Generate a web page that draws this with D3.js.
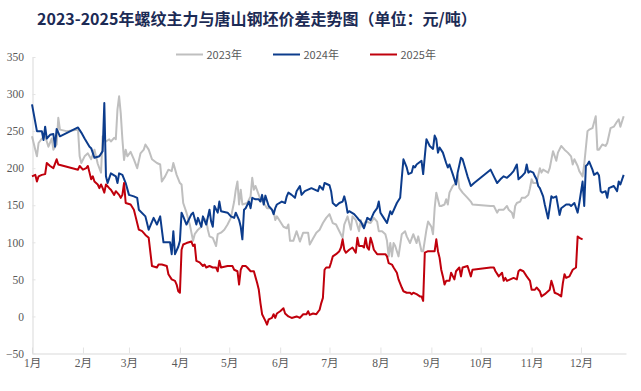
<!DOCTYPE html>
<html><head><meta charset="utf-8">
<script src="https://cdn.jsdelivr.net/npm/d3@7/dist/d3.min.js"></script>
<style>body{margin:0;background:#fff}svg{display:block}</style>
</head><body>
<svg id="chart" width="641" height="391"></svg>
<script>
const titleText = "2023-2025年螺纹主力与唐山钢坯价差走势图（单位：元/吨）";
const seriesNames = ["2023年", "2024年", "2025年"];
const monthLabels = ["1月","2月","3月","4月","5月","6月","7月","8月","9月","10月","11月","12月"];
const monthStarts = ["01-01","02-01","03-01","04-01","05-01","06-01","07-01","08-01","09-01","10-01","11-01","12-01"];
const yTickValues = [-50, 0, 50, 100, 150, 200, 250, 300, 350];

const dates2023 = ["01-01","01-03","01-04","01-05","01-07","01-09","01-11","01-13","01-14","01-16","01-17","01-18","01-22","01-29","01-30","01-31",
"02-02","02-04","02-06","02-08","02-10","02-12","02-13","02-15","02-17","02-18","02-20","02-21","02-22","02-23","02-24","02-25","02-26","02-27","02-28",
"03-02","03-04","03-06","03-08","03-10","03-11","03-13","03-15","03-18","03-20","03-21","03-23","03-25","03-27","03-28","03-30",
"04-01","04-02","04-03","04-05","04-07","04-09","04-10","04-12","04-14","04-15","04-17","04-18","04-19","04-21","04-23","04-24","04-26","04-28","04-30",
"05-02","05-04","05-05","05-06","05-07","05-08","05-09","05-12","05-14","05-15","05-16","05-17","05-20","05-22","05-24","05-26","05-28","05-29","05-30",
"06-01","06-03","06-05","06-06","06-07","06-09","06-11","06-13","06-15","06-18","06-19","06-21","06-23","06-25","06-27","06-29",
"07-01","07-03","07-05","07-07","07-09","07-10","07-12","07-14","07-15","07-17","07-19","07-20","07-21","07-23","07-26","07-28","07-30","07-31",
"08-02","08-04","08-05","08-06","08-07","08-08","08-09","08-10","08-12","08-14","08-16","08-17","08-19","08-21","08-23","08-24","08-26","08-27","08-29","08-30",
"09-01","09-02","09-03","09-04","09-06","09-07","09-09","09-10","09-11","09-12","09-14","09-16","09-17","09-18","09-20","09-23","09-25","09-26",
"10-07","10-09","10-11","10-12","10-15","10-17","10-18","10-20","10-21","10-22","10-23","10-25","10-26","10-28","10-30","10-31",
"11-01","11-02","11-04","11-06","11-07","11-08","11-11","11-12","11-14","11-16","11-17","11-19","11-21","11-23","11-25","11-26","11-27","11-29","11-30",
"12-02","12-03","12-05","12-06","12-08","12-10","12-11","12-12","12-14","12-16","12-17","12-19","12-21","12-23","12-24","12-25","12-27"];
const values2023 = [243,225,216,234,240,243,229,240,225,232,268,252,250,252,216,207,
216,220,212,225,206,194,243,236,239,236,241,239,279,297,274,239,211,225,216,
222,212,200,220,225,232,225,212,207,205,182,189,198,196,207,191,
180,178,153,140,124,102,111,117,121,133,130,117,108,106,95,111,113,117,124,
133,155,171,182,151,171,151,153,162,187,171,176,158,153,146,146,142,130,135,
128,121,119,124,102,102,115,101,113,113,97,105,113,117,126,133,
138,126,124,115,106,124,135,117,135,130,115,130,121,128,126,133,128,115,
115,111,102,81,99,81,99,95,81,111,115,108,99,111,99,108,88,88,117,128,
121,111,146,167,149,149,151,158,151,167,176,180,191,173,167,160,155,151,
149,149,140,144,144,149,144,140,133,149,153,155,160,160,164,173,
185,180,180,200,194,198,194,200,223,210,221,230,225,221,216,205,212,203,196,
189,205,250,252,254,270,225,225,232,230,234,254,256,263,266,256,270];

const dates2024 = ["01-01","01-04","01-07","01-08","01-09","01-10","01-12","01-14","01-15","01-16","01-18","01-29","01-31",
"02-02","02-05","02-06","02-08","02-11","02-13","02-14","02-15","02-16","02-18","02-21","02-22","02-23","02-25","02-27",
"03-01","03-04","03-06","03-07","03-11","03-13","03-16","03-18","03-20","03-21","03-22","03-26","03-27","03-28","03-29","03-31",
"04-01","04-02","04-03","04-05","04-08","04-09","04-11","04-12","04-14","04-15","04-17","04-19","04-20","04-21","04-22","04-24","04-25","04-26","04-30",
"05-02","05-04","05-05","05-07","05-08","05-09","05-10","05-11","05-13","05-14","05-15","05-17","05-19","05-20","05-21","05-22","05-23","05-25","05-27","05-28","05-29","05-30",
"06-02","06-04","06-05","06-06","06-08","06-10","06-11","06-13","06-14","06-16","06-20","06-22","06-24","06-25","06-27","06-28",
"07-01","07-02","07-03","07-05","07-07","07-09","07-10","07-11","07-12","07-13","07-16","07-18","07-19","07-20","07-21","07-22","07-24","07-26","07-28","07-30","07-31",
"08-01","08-03","08-05","08-07","08-08","08-11","08-13","08-14","08-15","08-17","08-18","08-20","08-21","08-22","08-23","08-26","08-27","08-28","08-29","08-31",
"09-02","09-03","09-04","09-05","09-06","09-08","09-10","09-11","09-12","09-14","09-16","09-17","09-19","09-20","09-23","09-25","09-27",
"10-07","10-09","10-11","10-13","10-15","10-17","10-19","10-21","10-23","10-24","10-26","10-28","10-29","10-30","10-31",
"11-02","11-03","11-04","11-05","11-06","11-08","11-09","11-11","11-13","11-14","11-16","11-18","11-19","11-22","11-24","11-25","11-27","11-29","11-30",
"12-02","12-03","12-04","12-05","12-06","12-08","12-09","12-11","12-12","12-13","12-14","12-16","12-17","12-18","12-21","12-23","12-24","12-25","12-27"];
const values2024 = [286,250,250,238,256,240,245,246,229,253,243,255,248,
240,229,227,214,216,223,288,189,180,193,189,180,193,191,180,
164,162,160,144,135,117,133,124,135,117,100,100,84,115,84,94,
102,140,135,124,138,140,124,133,121,135,124,144,128,121,149,140,155,142,140,
135,133,140,130,121,104,144,146,155,146,160,158,158,155,164,151,163,149,144,138,146,151,
155,153,162,167,164,160,169,176,164,169,173,171,169,176,171,180,
177,169,153,149,153,155,162,153,140,142,138,133,130,128,124,119,133,130,140,146,155,
140,133,126,142,138,153,160,187,212,201,192,194,203,201,205,210,192,216,239,230,
226,244,239,221,228,221,207,201,205,192,178,194,214,212,189,176,180,
198,189,180,185,189,187,191,196,205,185,189,194,205,194,196,
194,189,185,176,173,162,151,132,162,160,162,137,146,151,151,149,153,140,153,
182,149,203,205,209,198,191,194,190,169,167,169,160,173,176,169,182,178,191];

const dates2025 = ["01-01","01-03","01-04","01-05","01-07","01-09","01-10","01-12","01-14","01-16","01-17","01-29","01-30",
"02-01","02-03","02-04","02-05","02-06","02-07","02-08","02-10","02-11","02-12","02-13","02-14","02-15","02-17","02-18","02-20","02-21","02-23","02-24","02-25","02-26","02-27",
"03-02","03-04","03-05","03-07","03-09","03-11","03-13","03-15","03-18","03-19","03-21","03-24","03-25","03-27","03-29","03-30","03-31",
"04-01","04-02","04-03","04-05","04-08","04-09","04-10","04-11","04-13","04-15","04-16","04-17","04-19","04-21","04-23","04-24","04-25","04-26","04-30",
"05-03","05-04","05-06","05-07","05-08","05-09","05-11","05-12","05-14","05-16","05-18","05-19","05-20","05-21","05-23","05-24","05-25","05-27","05-28","05-29","05-30",
"06-01","06-03","06-04","06-06","06-08","06-11","06-13","06-15","06-17","06-18","06-19","06-21","06-23","06-25","06-26","06-27","06-28","06-29",
"07-01","07-02","07-03","07-05","07-07","07-08","07-09","07-10","07-11","07-13","07-15","07-17","07-18","07-19","07-21","07-22","07-23","07-24","07-25","07-26","07-27","07-28","07-30",
"08-01","08-04","08-05","08-06","08-08","08-09","08-11","08-12","08-14","08-15","08-17","08-19","08-20","08-21","08-23","08-25","08-26","08-27","08-28","08-30",
"09-01","09-03","09-04","09-05","09-06","09-07","09-08","09-09","09-10","09-12","09-13","09-15","09-16","09-18","09-19","09-20","09-23","09-25","09-26",
"10-07","10-09","10-10","10-12","10-14","10-15","10-16","10-17","10-19","10-21","10-23","10-24","10-25","10-27","10-29","10-31",
"11-01","11-03","11-04","11-06","11-07","11-09","11-11","11-12","11-13","11-14","11-15","11-17","11-19","11-20","11-21","11-22","11-24","11-26","11-28","11-29","11-30",
"12-02"];
const values2025 = [189,191,182,189,191,192,207,203,200,212,205,198,203,
198,200,203,194,185,189,182,178,173,178,173,167,178,173,171,164,169,164,160,164,180,153,
151,144,135,117,115,110,106,68,66,70,70,68,57,50,48,43,34,
32,90,97,99,101,95,97,75,73,68,70,66,68,66,66,61,75,66,68,
68,63,61,43,63,68,68,66,61,61,45,36,18,3,-6,-11,-4,-2,3,-2,4,
7,11,4,0,-2,0,-2,3,3,7,2,4,3,9,18,25,63,66,
66,73,81,84,88,93,104,90,86,90,93,86,106,95,95,93,106,93,90,106,99,90,84,
84,84,81,72,70,66,59,50,39,34,32,32,30,32,30,27,27,21,86,88,
88,88,104,88,79,63,54,43,48,48,59,50,61,66,54,66,68,54,63,
66,66,61,54,59,48,52,48,50,52,50,61,63,61,54,48,
36,36,39,34,27,30,34,36,48,41,32,30,27,45,57,52,54,63,66,108,106,
104];

const seriesColors = ["#BFBFBF", "#0C3C8C", "#C0000C"];

const parse = d3.timeParse("%m-%d");
const svg = d3.select("#chart");
const serif = "'Liberation Serif','Times New Roman','Noto Sans CJK SC',serif";
const sans = "'Noto Sans CJK SC','Microsoft YaHei',sans-serif";

const x = d3.scaleTime()
  .domain([parse("01-01"), new Date(1900, 11, 28, 10)])
  .range([32, 626]);
const y = d3.scaleLinear().domain([-50, 350]).range([353.5, 57]);

// title
svg.append("text").attr("x", 37).attr("y", 25)
  .attr("font-family", sans).attr("font-weight", "bold").attr("font-size", 16)
  .attr("fill", "#1c2b55").text(titleText);

// x axis
const xAxis = d3.axisBottom(x)
  .tickValues(monthStarts.map(parse))
  .tickFormat((d, i) => monthLabels[i])
  .tickSizeInner(-6).tickSizeOuter(0).tickPadding(5);
const gx = svg.append("g").attr("transform", "translate(0,353.5)").call(xAxis);
gx.select(".domain").attr("stroke", "#d9d9d9");
gx.selectAll(".tick line").attr("stroke", "#e3e3e3");
gx.selectAll(".tick text").attr("font-family", serif).attr("font-size", 11.5).attr("fill", "#595959");

// y axis
const yAxis = d3.axisLeft(y).tickValues(yTickValues)
  .tickSizeInner(-3).tickSizeOuter(0).tickPadding(8.5);
const gy = svg.append("g").attr("transform", "translate(32.5,0)").call(yAxis);
gy.select(".domain").attr("stroke", "#d9d9d9");
gy.selectAll(".tick line").attr("stroke", "#e3e3e3");
gy.selectAll(".tick text").attr("font-family", serif).attr("font-size", 11.5).attr("fill", "#595959");

// lines
const series = [
  {dates: dates2023, values: values2023},
  {dates: dates2024, values: values2024},
  {dates: dates2025, values: values2025}
];
const line = d3.line().x(d => x(d[0])).y(d => y(d[1]));
series.forEach((s, i) => {
  const pts = d3.zip(s.dates.map(parse), s.values);
  svg.append("path").datum(pts)
    .attr("fill", "none").attr("stroke", seriesColors[i])
    .attr("stroke-width", 2).attr("stroke-linejoin", "round")
    .attr("d", line);
});

// legend
const legendX = [176, 273, 370];
seriesNames.forEach((name, i) => {
  const g = svg.append("g").attr("transform", `translate(${legendX[i]},54.5)`);
  g.append("line").attr("x1", 0).attr("x2", 27).attr("y1", 0).attr("y2", 0)
    .attr("stroke", seriesColors[i]).attr("stroke-width", 2);
  g.append("text").attr("x", 30.5).attr("y", 4)
    .attr("font-family", sans).attr("font-size", 11).attr("fill", "#595959").text(name);
});
</script>
</body></html>
